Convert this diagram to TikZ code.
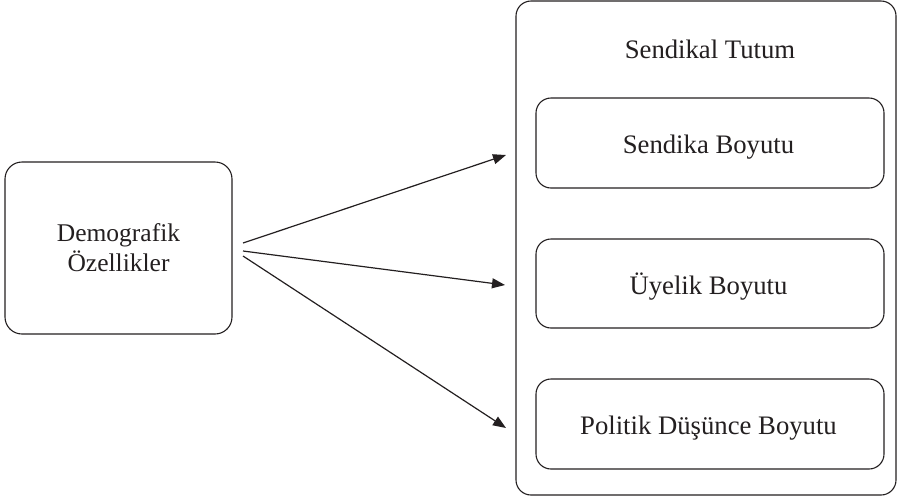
\documentclass[tikz,border=0pt]{standalone}
\usepackage{fontspec}
\setmainfont{Liberation Serif}
\usetikzlibrary{arrows.meta}
\definecolor{ink}{HTML}{231F20}
\begin{document}
\begin{tikzpicture}[x=1pt,y=-1pt,
  box/.style={draw=ink,line width=1.1pt,rounded corners=15pt,inner sep=0pt},
  lbl/.style={inner sep=0pt,anchor=base,font=\fontsize{26.7}{30}\selectfont,text=ink},
  lbls/.style={lbl,font=\fontsize{25.5}{29}\selectfont},
  conn/.style={draw=ink,line width=1.2pt,-{Triangle[length=13pt,width=10pt]}}]
\useasboundingbox (0,0) rectangle (897,499);
\node[box,minimum width=227pt,minimum height=172pt,rounded corners=17pt] (demo) at (118.5,248) {};
\node[lbls] (demo1) at (118.5,241.7) {Demografik};
\node[lbls] (demo2) at (118.5,271) {Özellikler};
\node[box,minimum width=380pt,minimum height=494pt] (tutum) at (706,248) {};
\node[lbl] (title) at (710,58) {Sendikal Tutum};
\node[box,minimum width=348pt,minimum height=90pt] (b1) at (710,143) {};
\node[lbl] (b1t) at (708.5,153.5) {Sendika Boyutu};
\node[box,minimum width=348pt,minimum height=89pt] (b2) at (710,283.5) {};
\node[lbl] (b2t) at (708.5,294) {Üyelik Boyutu};
\node[box,minimum width=348pt,minimum height=90pt] (b3) at (710,424) {};
\node[lbl] (b3t) at (708.5,434.5) {Politik Düşünce Boyutu};
\coordinate (s1) at (243,243);
\coordinate (s2) at (243,251);
\coordinate (s3) at (243,256);
\coordinate (t1) at (506,155);
\coordinate (t2) at (505,285);
\coordinate (t3) at (506,428);
\draw[conn] (s1) -- (t1);
\draw[conn] (s2) -- (t2);
\draw[conn] (s3) -- (t3);
\end{tikzpicture}
\end{document}
